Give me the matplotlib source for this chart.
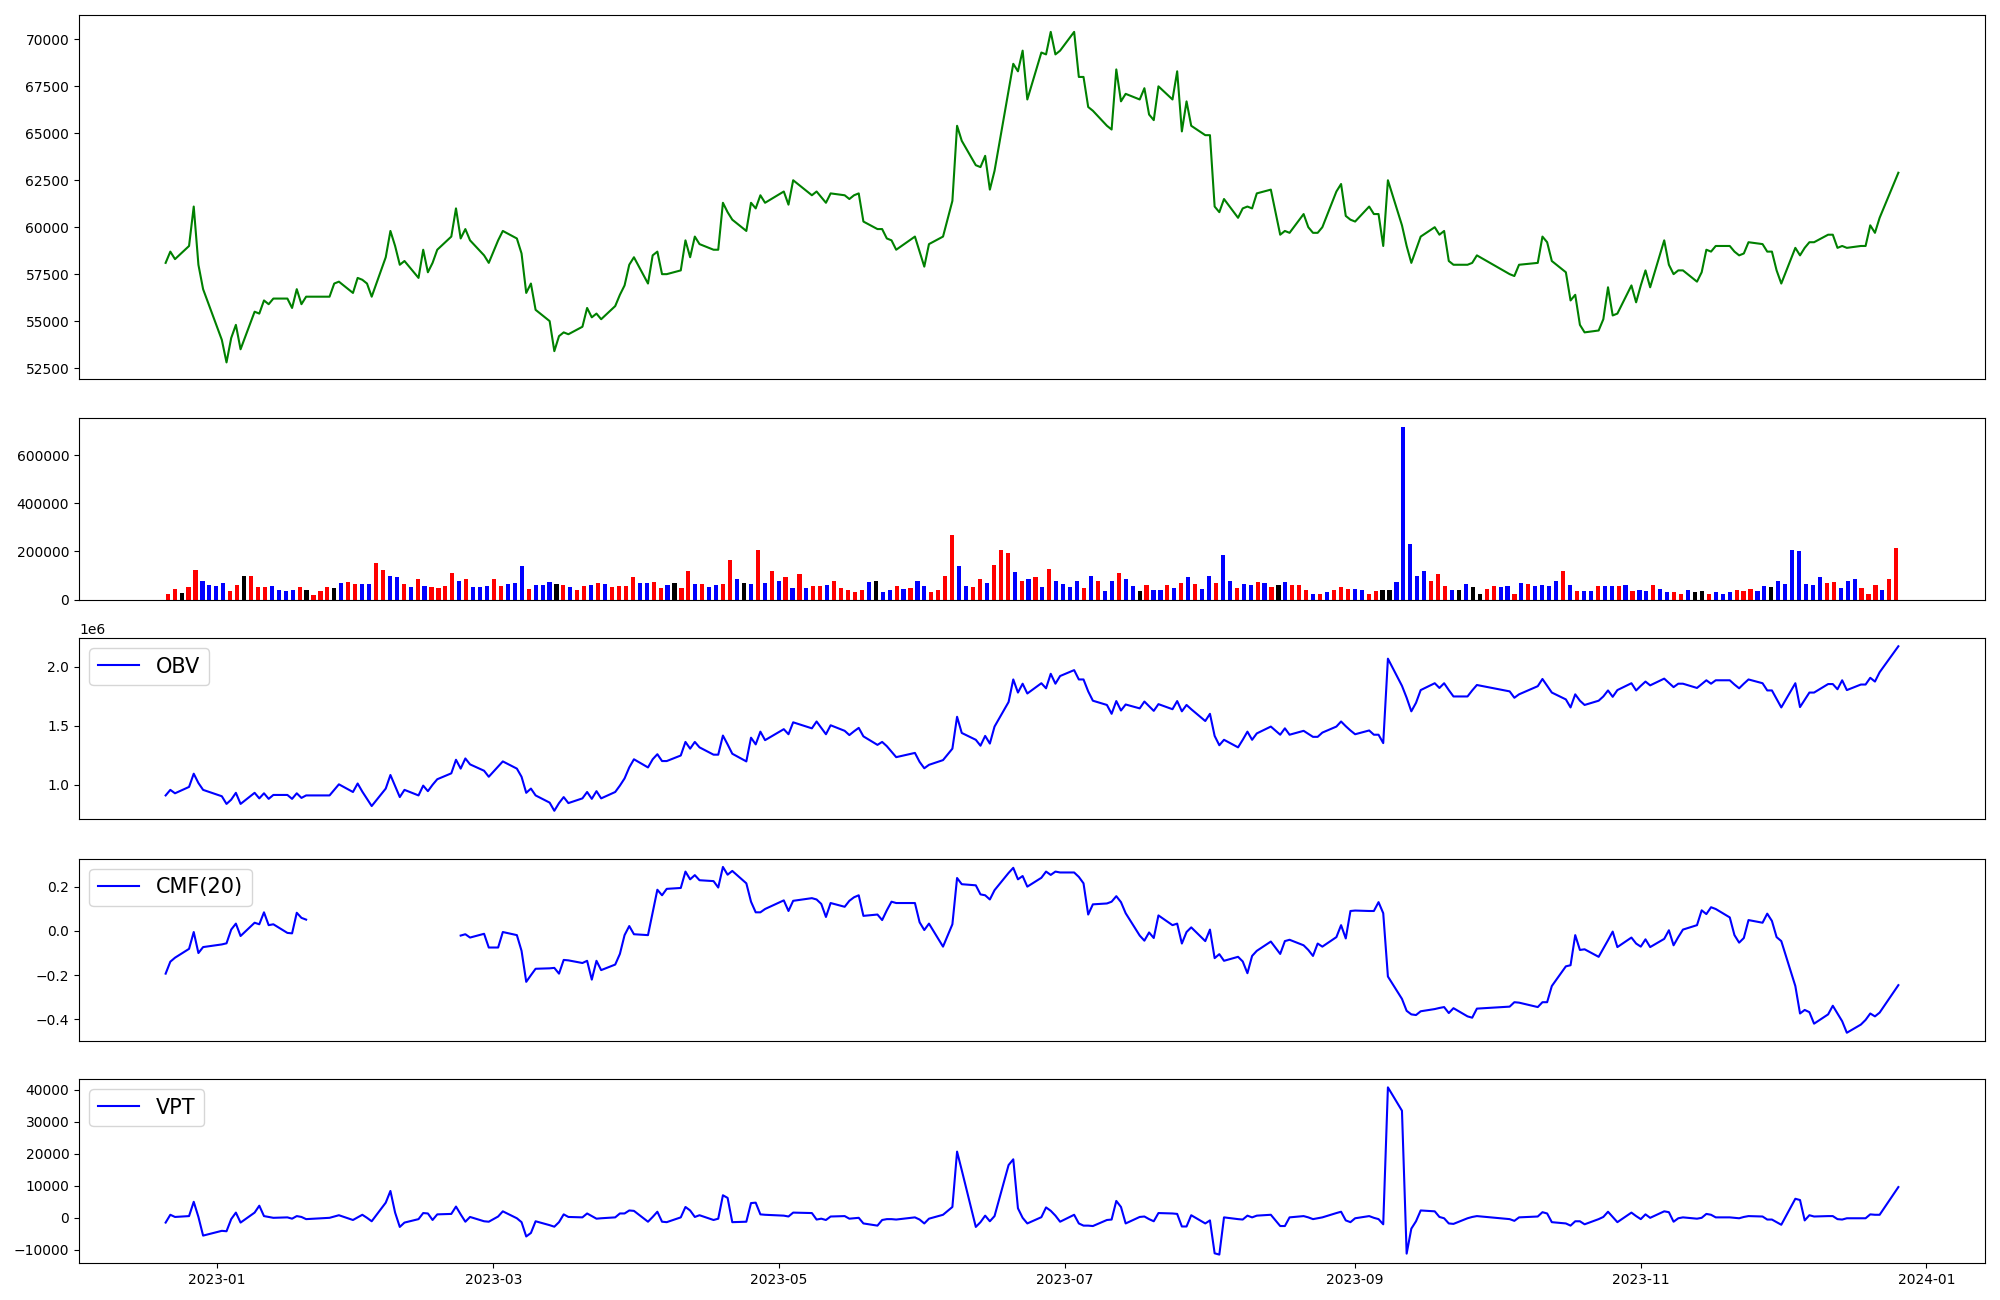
import numpy as np
import pandas as pd
import matplotlib
matplotlib.use("Agg")
import matplotlib.pyplot as plt
import matplotlib.dates as mdates

nan = np.nan

# KRX trading calendar: business days minus exchange holidays
start_date = "2022-12-21"
end_date = "2023-12-26"
holidays = ["2022-12-30", "2023-01-23", "2023-01-24", "2023-03-01", "2023-05-01",
            "2023-05-05", "2023-05-29", "2023-06-06", "2023-08-15", "2023-09-28",
            "2023-09-29", "2023-10-02", "2023-10-03", "2023-10-09", "2023-12-25"]

close = [
    58100, 58700, 58300, 59000, 61100, 58000, 56700,
    54000, 52800, 54100, 54800, 53500, 55500, 55400, 56100, 55900, 56200,
    56200, 55700, 56700, 55900, 56300, 56300, 57000, 57100, 56500, 57300,
    57200, 57000, 56300, 58400, 59800, 59000, 58000, 58200, 57300, 58800,
    57600, 58100, 58800, 59500, 61000, 59400, 59900, 59300, 58500, 58100,
    59300, 59800, 59400, 58600, 56500, 57000, 55600, 55000, 53400, 54200, 54400,
    54300, 54700, 55700, 55200, 55400, 55100, 55800, 56400, 56900, 58000, 58400,
    57000, 58500, 58700, 57500, 57500, 57700, 59300, 58400, 59500, 59100,
    58800, 58800, 61300, 60800, 60400, 59800, 61300, 61000, 61700, 61300,
    61900, 61200, 62500, 61700, 61900, 61600, 61300, 61800, 61700, 61500,
    61700, 61800, 60300, 59900, 59900, 59400, 59300, 58800, 59500, 58700,
    57900, 59100, 59500, 61400, 65400, 64600, 63300, 63200, 63800, 62000, 63000,
    67300, 68700, 68300, 69400, 66800, 69300, 69200, 70400, 69200, 69400,
    70400, 68000, 68000, 66400, 66200, 65400, 65200, 68400, 66700, 67100, 66800,
    67400, 66000, 65700, 67500, 66800, 68300, 65100, 66700, 65400, 64900,
    64900, 61100, 60800, 61500, 60500, 61000, 61100, 61000, 61800, 62000, 59600,
    59800, 59700, 60700, 60000, 59700, 59700, 60000, 61900, 62300, 60600, 60400,
    60300, 61100, 60700, 60700, 59000, 62500, 60100, 59000, 58100, 58800,
    59500, 60000, 59600, 59800, 58200, 58000, 58000, 58100, 58500,
    57500, 57400, 58000, 58100, 59500, 59200, 58200, 57600, 56100, 56400,
    54800, 54400, 54500, 55100, 56800, 55300, 55400, 56900, 56000,
    56900, 57700, 56800, 59300, 58000, 57500, 57700, 57700, 57100, 57600, 58800,
    58700, 59000, 59000, 58700, 58500, 58600, 59200, 59100, 58700, 58700, 57700,
    57000, 58900, 58500, 58900, 59200, 59200, 59600, 59600, 58900, 59000,
    58900, 59000, 59000, 60100, 59700, 60500, 62900,
]

volume = [
    24000, 44000, 29000, 51000, 122000, 79000, 59000, 55000, 68000, 35000,
    59000, 100000, 100000, 51000, 51000, 55000, 38000, 35000, 38000, 51000,
    38000, 17000, 35000, 51000, 46000, 68000, 71000, 63000, 63000, 63000,
    151000, 122000, 100000, 92000, 63000, 51000, 87000, 55000, 51000, 46000,
    55000, 111000, 76000, 87000, 51000, 51000, 55000, 84000, 55000, 63000,
    68000, 138000, 43000, 59000, 59000, 71000, 63000, 59000, 51000, 38000,
    55000, 59000, 68000, 63000, 51000, 55000, 55000, 92000, 68000, 68000,
    71000, 46000, 59000, 68000, 46000, 117000, 63000, 63000, 51000, 59000,
    63000, 163000, 84000, 68000, 63000, 205000, 68000, 117000, 76000, 92000,
    46000, 105000, 46000, 55000, 55000, 59000, 79000, 46000, 38000, 30000,
    38000, 71000, 76000, 30000, 38000, 55000, 43000, 46000, 79000, 55000,
    30000, 38000, 97000, 267000, 138000, 55000, 51000, 84000, 68000, 143000,
    208000, 194000, 113000, 76000, 84000, 92000, 51000, 125000, 79000, 63000,
    51000, 76000, 46000, 100000, 76000, 35000, 76000, 110000, 84000, 55000,
    35000, 59000, 38000, 38000, 59000, 46000, 68000, 92000, 63000, 43000,
    97000, 68000, 187000, 79000, 46000, 63000, 59000, 71000, 68000, 51000,
    59000, 71000, 59000, 59000, 38000, 25000, 25000, 30000, 38000, 51000,
    43000, 43000, 38000, 25000, 35000, 38000, 38000, 71000, 717000, 233000,
    97000, 117000, 79000, 105000, 55000, 38000, 38000, 63000, 51000, 25000,
    43000, 55000, 51000, 55000, 25000, 68000, 63000, 55000, 59000, 55000,
    76000, 117000, 59000, 35000, 35000, 35000, 55000, 55000, 55000, 55000,
    59000, 35000, 38000, 35000, 59000, 43000, 30000, 30000, 22000, 38000,
    30000, 35000, 25000, 30000, 22000, 30000, 38000, 35000, 43000, 35000,
    55000, 51000, 79000, 63000, 205000, 200000, 63000, 59000, 92000, 68000,
    71000, 46000, 76000, 84000, 46000, 25000, 59000, 38000, 84000, 213000,
]

# candle direction per day: r = up, b = down, k = unchanged
bar_dir = ("rrkrrbbbbr" "rkrrrbbbbr" "krrrkbrrbb" "rrbbrbrbrr" "rrbrbbbrrb"
           "bbrbbbkrbr" "rbrbrrrrbb" "rrbkrrbrbb" "rrbkbrbrbr" "brbrrbrrrr"
           "rbkbbrbrbb" "rrrrbbrrbr" "rrbrbrbrbb" "bbrbrbbrbb" "krbbrbrbrb"
           "brbbrbbrbr" "kbrrrbrbrr" "rbbrrkkbbb" "bbrrrbkbkk" "rrbbrbrbbb"
           "brbrbbrbbr" "brbbrbbrrb" "kkrbbbrrrb" "bkbbbbbbbr" "rbbbrrrbrr")

obv_m = [
    0.910, 0.957, 0.928, 0.982, 1.094, 1.015, 0.957,
    0.903, 0.838, 0.874, 0.932, 0.838, 0.932, 0.885, 0.928, 0.881, 0.914,
    0.914, 0.881, 0.928, 0.889, 0.910, 0.910, 0.957, 1.004, 0.939, 1.011,
    0.942, 0.881, 0.820, 0.968, 1.083, 0.989, 0.896, 0.957, 0.910, 0.993,
    0.946, 1.000, 1.047, 1.097, 1.212, 1.137, 1.223, 1.173, 1.119, 1.068,
    1.155, 1.198, 1.137, 1.068, 0.932, 0.968, 0.910, 0.849, 0.780, 0.845, 0.896,
    0.845, 0.885, 0.939, 0.881, 0.946, 0.885, 0.939, 0.993, 1.054, 1.147, 1.216,
    1.147, 1.216, 1.259, 1.201, 1.201, 1.248, 1.363, 1.306, 1.363, 1.317,
    1.255, 1.255, 1.417, 1.342, 1.263, 1.198, 1.399, 1.342, 1.450, 1.378,
    1.471, 1.428, 1.529, 1.478, 1.536, 1.482, 1.428, 1.504, 1.457, 1.421,
    1.453, 1.482, 1.410, 1.338, 1.363, 1.327, 1.281, 1.234, 1.270, 1.194,
    1.140, 1.169, 1.209, 1.306, 1.576, 1.439, 1.381, 1.331, 1.414, 1.349, 1.493,
    1.701, 1.892, 1.781, 1.856, 1.773, 1.860, 1.817, 1.940, 1.856, 1.921,
    1.971, 1.892, 1.892, 1.791, 1.712, 1.676, 1.601, 1.709, 1.629, 1.680, 1.647,
    1.705, 1.665, 1.626, 1.683, 1.640, 1.709, 1.622, 1.676, 1.640, 1.540,
    1.601, 1.414, 1.335, 1.381, 1.317, 1.381, 1.450, 1.381, 1.435, 1.493, 1.424,
    1.478, 1.424, 1.457, 1.432, 1.406, 1.406, 1.442, 1.493, 1.536, 1.496, 1.460,
    1.428, 1.460, 1.424, 1.424, 1.353, 2.068, 1.838, 1.737, 1.622, 1.694,
    1.802, 1.860, 1.820, 1.860, 1.802, 1.748, 1.748, 1.799, 1.845,
    1.791, 1.737, 1.766, 1.835, 1.896, 1.838, 1.781, 1.723, 1.655, 1.766,
    1.712, 1.676, 1.712, 1.748, 1.799, 1.745, 1.802, 1.860, 1.799,
    1.838, 1.874, 1.842, 1.899, 1.863, 1.827, 1.856, 1.856, 1.820, 1.853, 1.885,
    1.856, 1.885, 1.885, 1.849, 1.817, 1.856, 1.892, 1.860, 1.799, 1.799, 1.727,
    1.655, 1.860, 1.658, 1.719, 1.781, 1.781, 1.853, 1.853, 1.809, 1.885,
    1.802, 1.849, 1.849, 1.906, 1.874, 1.953, 2.173,
]

cmf20 = [
    -0.193, -0.139, -0.121, -0.081, -0.005, -0.100, -0.073,
    -0.061, -0.056, 0.006, 0.033, -0.023, 0.037, 0.030, 0.084, 0.026, 0.030,
    -0.009, -0.011, 0.082, 0.059, 0.051, nan, nan, nan, nan, nan,
    nan, nan, nan, nan, nan, nan, nan, nan, nan, nan,
    nan, nan, nan, nan, nan, -0.021, -0.015, -0.030, -0.013, -0.075,
    -0.075, -0.005, -0.019, -0.090, -0.230, -0.200, -0.171, -0.169, -0.167, -0.193, -0.131,
    -0.133, -0.145, -0.135, -0.220, -0.135, -0.177, -0.152, -0.104, -0.019, 0.022, -0.015,
    -0.019, 0.084, 0.186, 0.161, 0.190, 0.194, 0.268, 0.233, 0.252, 0.229,
    0.225, 0.196, 0.289, 0.254, 0.271, 0.215, 0.132, 0.084, 0.084, 0.099,
    0.138, 0.090, 0.136, 0.148, 0.142, 0.122, 0.063, 0.126, 0.109, 0.136,
    0.152, 0.161, 0.068, 0.074, 0.049, 0.093, 0.132, 0.126, 0.126, 0.039,
    0.004, 0.033, -0.071, 0.030, 0.239, 0.211, 0.206, 0.165, 0.161, 0.142, 0.184,
    0.262, 0.285, 0.233, 0.248, 0.200, 0.240, 0.268, 0.253, 0.268, 0.264,
    0.264, 0.244, 0.215, 0.074, 0.120, 0.124, 0.132, 0.157, 0.130, 0.080, -0.021,
    -0.044, -0.007, -0.032, 0.070, 0.026, 0.033, -0.057, -0.005, 0.016, -0.046,
    0.006, -0.123, -0.105, -0.135, -0.117, -0.138, -0.191, -0.113, -0.090, -0.048, -0.104,
    -0.046, -0.040, -0.065, -0.086, -0.113, -0.057, -0.071, -0.028, 0.026, -0.034, 0.090,
    0.092, 0.090, 0.090, 0.130, 0.080, -0.206, -0.307, -0.361, -0.377, -0.380,
    -0.363, -0.353, -0.348, -0.344, -0.371, -0.349, -0.386, -0.392, -0.351,
    -0.342, -0.322, -0.324, -0.344, -0.322, -0.322, -0.249, -0.160, -0.155, -0.019,
    -0.086, -0.083, -0.117, -0.080, -0.042, -0.003, -0.073, -0.030, -0.057,
    -0.071, -0.038, -0.073, -0.036, 0.003, -0.065, -0.028, 0.006, 0.026, 0.093, 0.076,
    0.107, 0.099, 0.061, -0.019, -0.053, -0.032, 0.049, 0.037, 0.078, 0.045, -0.028,
    -0.046, -0.249, -0.373, -0.357, -0.367, -0.419, -0.377, -0.338, -0.373, -0.408,
    -0.460, -0.423, -0.402, -0.373, -0.386, -0.369, -0.245,
]

vpt = [
    -1490, 950, 270, 540, 5010, 270, -5560,
    -4070, -4200, -410, 1630, -1490, 1630, 3790, 540, 270, 0,
    140, -270, 540, 270, -410, 0, 410, 810, -680, 140,
    950, 0, -1080, 4740, 8400, 1630, -2850, -1490, -410, 1490,
    1360, -680, 1080, 1220, 3520, 1080, -1220, 270, -1080, -1220,
    410, 2030, -140, -1360, -5830, -4740, -1080, -2300, -2780, -1360, 1080,
    270, 140, 1360, 540, -270, -140, 140, 1360, 1360, 2300, 2170,
    -1220, 270, 1900, -1220, -1360, 140, 3390, 2300, 270, 810,
    -680, -270, 7050, 6230, -1360, -1220, 4610, 4740, 1080, 950,
    680, 410, 1630, 1490, -540, -270, -680, 410, 540, -270,
    -140, 0, -1760, -2440, -680, -410, -410, -540, 140, -540,
    -1760, -270, 950, 3390, 20700, 14900, -2850, -1360, 680, -1080, 540,
    16500, 18300, 2980, 0, -1760, 200, 3250, 2200, 680, -1220,
    950, -1760, -2440, -2440, -2570, -680, -540, 5280, 3390, -1760, 270,
    410, -410, -1080, 1490, 1360, 1220, -2710, -2710, 810, -1760,
    -810, -11100, -11500, 140, -410, -540, 680, 140, 680, 950, -2570,
    -2570, 140, 540, 140, -410, -140, 140, 1490, 1900, -810, -1360,
    -140, 540, 0, -410, -2030, 40800, 33500, -11200, -3390, -1080,
    2300, 2030, 270, -140, -1760, -1900, -140, 270, 540,
    -410, -950, 140, 410, 1760, 1360, -1360, -1760, -2440, -1080,
    -1080, -2030, -410, 270, 1900, 270, -1360, 1630, 540,
    -410, 1080, 0, 2030, 1760, -1220, -140, 140, -270, 0, 1220,
    950, 140, 140, 0, -140, 270, 540, 410, -540, -540, -1360,
    -2170, 5960, 5560, -810, 810, 410, 540, 540, -410, -540,
    -140, -140, -140, 1080, 950, 950, 9620,
]

dates = pd.bdate_range(start_date, end_date)
dates = dates[~dates.isin(pd.to_datetime(holidays))]
n = min(len(dates), len(close))
dates = dates[:n]

color_map = {"r": "red", "b": "blue", "k": "black"}
bar_colors = [color_map[c] for c in bar_dir[:n]]
obv = np.array(obv_m[:n]) * 1e6

fig = plt.figure(figsize=(20, 13), dpi=100)
L, W = 0.0395, 0.953
ax1 = fig.add_axes([L, 0.7085, W, 0.2797])
ax2 = fig.add_axes([L, 0.5388, W, 0.1393])
ax3 = fig.add_axes([L, 0.3700, W, 0.1392])
ax4 = fig.add_axes([L, 0.1992, W, 0.1403])
ax5 = fig.add_axes([L, 0.0285, W, 0.1415])

ax1.plot(dates, close[:n], color="green")
ax1.set_xticks([])

ax2.bar(np.arange(n), volume[:n], color=bar_colors, width=0.6)
ax2.set_xticks([])

ax3.plot(dates, obv, color="blue", label="OBV")
ax3.legend(loc="upper left", fontsize=15)
ax3.set_xticks([])

ax4.plot(dates, cmf20[:n], color="blue", label="CMF(20)")
ax4.legend(loc="upper left", fontsize=15)
ax4.set_xticks([])

ax5.plot(dates, vpt[:n], color="blue", label="VPT")
ax5.legend(loc="upper left", fontsize=15)
ax5.xaxis.set_major_locator(mdates.MonthLocator(bymonth=[1, 3, 5, 7, 9, 11]))
ax5.xaxis.set_major_formatter(mdates.DateFormatter("%Y-%m"))

fig.savefig("out.png", dpi=100)
